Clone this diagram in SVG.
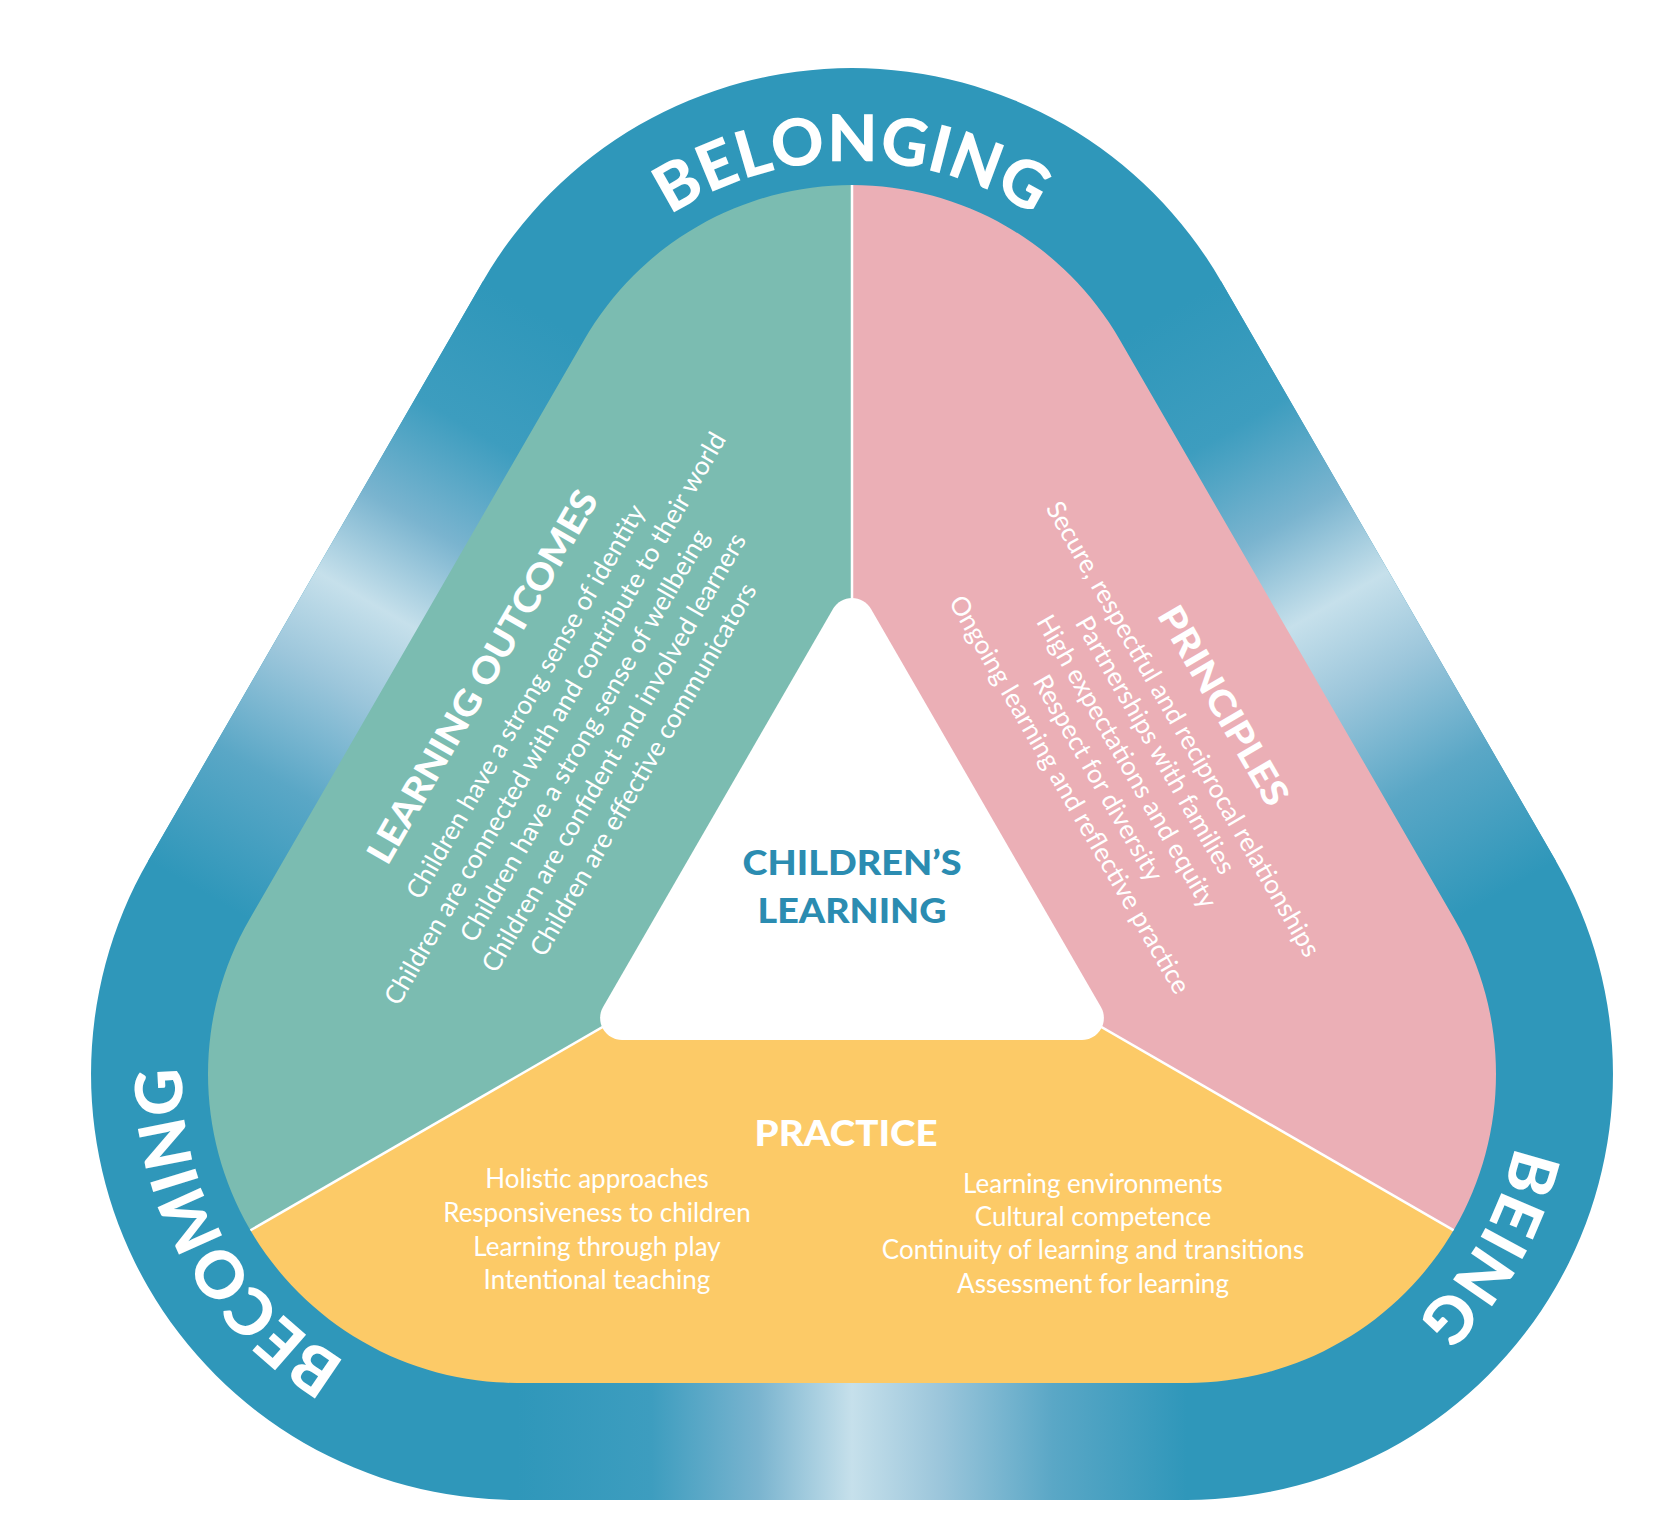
<svg xmlns="http://www.w3.org/2000/svg" width="1675" height="1529" viewBox="0 0 1675 1529">
<defs>
<style>
.ring-label{font-family:Lato,"Open Sans","DejaVu Sans",sans-serif;font-weight:900;font-size:65px;fill:#ffffff;letter-spacing:0.5px}
.head{font-family:Lato,"Open Sans","DejaVu Sans",sans-serif;font-weight:900;font-size:36px;fill:#ffffff;text-anchor:middle}
.body{font-family:Lato,"Open Sans","DejaVu Sans",sans-serif;font-weight:400;font-size:26px;fill:#ffffff;text-anchor:middle}
.center-label{font-family:Lato,"Open Sans","DejaVu Sans",sans-serif;font-weight:900;font-size:34px;fill:#2B8CB1;text-anchor:middle}
.divider{stroke:#ffffff;stroke-width:2.5;fill:none}
</style>
<linearGradient id="gL" gradientUnits="userSpaceOnUse" x1="533.8" y1="310.3" x2="198.8" y2="890.3">
<stop offset="0" stop-color="#2F97BA"/><stop offset="0.2" stop-color="#3D9DBF"/><stop offset="0.36" stop-color="#7AB4CF"/><stop offset="0.5" stop-color="#C6E0EB"/><stop offset="0.63" stop-color="#9CC6DB"/><stop offset="0.8" stop-color="#5AA7C6"/><stop offset="1" stop-color="#2F97BA"/>
</linearGradient>
<linearGradient id="gR" gradientUnits="userSpaceOnUse" x1="1170.2" y1="310.3" x2="1505.2" y2="890.3">
<stop offset="0" stop-color="#2F97BA"/><stop offset="0.2" stop-color="#3D9DBF"/><stop offset="0.36" stop-color="#7AB4CF"/><stop offset="0.5" stop-color="#C6E0EB"/><stop offset="0.63" stop-color="#9CC6DB"/><stop offset="0.8" stop-color="#5AA7C6"/><stop offset="1" stop-color="#2F97BA"/>
</linearGradient>
<linearGradient id="gB" gradientUnits="userSpaceOnUse" x1="517" y1="1441" x2="1187" y2="1441">
<stop offset="0" stop-color="#2F97BA"/><stop offset="0.2" stop-color="#3D9DBF"/><stop offset="0.36" stop-color="#7AB4CF"/><stop offset="0.5" stop-color="#C6E0EB"/><stop offset="0.63" stop-color="#9CC6DB"/><stop offset="0.8" stop-color="#5AA7C6"/><stop offset="1" stop-color="#2F97BA"/>
</linearGradient>
<clipPath id="innerClip"><path d="M584.4,339.5 A309,309 0 0 1 1119.6,339.5 L1454.6,919.5 A309,309 0 0 1 1187,1383 L517,1383 A309,309 0 0 1 249.4,919.5 Z"/></clipPath>
<path id="arcTop" d="M524.1,436.2 A333,333 0 0 1 1179.9,436.2"/>
<path id="arcLeft" d="M625.8,1388.8 A333,333 0 0 1 306.2,815.3"/>
<path id="arcRight" d="M1394,812.3 A333,333 0 0 1 1067.3,1384.9"/>
</defs>
<rect width="1675" height="1529" fill="#ffffff"/>

<g id="ring">
<path d="M483.1,281 A426,426 0 0 1 1220.9,281 L1555.9,861 A426,426 0 0 1 1187,1500 L517,1500 A426,426 0 0 1 148.1,861 Z" fill="#2F97BA"/>
<polygon points="483.1,281 600,348 265,928 148.1,861" fill="url(#gL)"/>
<polygon points="1220.9,281 1104,348 1439,928 1555.9,861" fill="url(#gR)"/>
<polygon points="517,1370 1187,1370 1187,1500 517,1500" fill="url(#gB)"/>
</g>

<g id="sectors" clip-path="url(#innerClip)">
<polygon id="sector-outcomes" points="852,883 852,0 0,0 0,1374.9" fill="#7BBCB1"/>
<polygon id="sector-principles" points="852,883 852,0 1675,0 1675,1358.2" fill="#EBAFB6"/>
<polygon id="sector-practice" points="852,883 0,1374.9 0,1529 1675,1529 1675,1358.2" fill="#FCCA67"/>
</g>

<g id="connectors" clip-path="url(#innerClip)">
<line class="divider" x1="852" y1="883" x2="852" y2="150"/>
<line class="divider" x1="852" y1="883" x2="200" y2="1259.4"/>
<line class="divider" x1="852" y1="883" x2="1504" y2="1259.4"/>
</g>

<g id="center">
<path d="M832.95,609 A22,22 0 0 1 871.05,609 L1100.95,1007 A22,22 0 0 1 1081.9,1040 L622.1,1040 A22,22 0 0 1 603.05,1007 Z" fill="#ffffff"/>
<text class="center-label" x="852" y="875" textLength="219" lengthAdjust="spacingAndGlyphs">CHILDREN’S</text>
<text class="center-label" x="852" y="923" textLength="189" lengthAdjust="spacingAndGlyphs">LEARNING</text>
</g>

<g id="label-belonging">
<text class="ring-label"><textPath href="#arcTop" startOffset="50%" text-anchor="middle">BELONGING</textPath></text>
</g>
<g id="label-becoming">
<text class="ring-label" style="letter-spacing:0px"><textPath href="#arcLeft" startOffset="50%" text-anchor="middle">BECOMING</textPath></text>
</g>
<g id="label-being">
<text class="ring-label" style="letter-spacing:1px"><textPath href="#arcRight" startOffset="50%" text-anchor="middle">BEING</textPath></text>
</g>

<g id="node-outcomes" transform="translate(483,677) rotate(-60)">
<text class="head" x="0" y="12" textLength="424" lengthAdjust="spacingAndGlyphs">LEARNING OUTCOMES</text>
<text class="body" x="0" y="58">Children have a strong sense of identity</text>
<text class="body" x="0" y="92">Children are connected with and contribute to their world</text>
<text class="body" x="0" y="126">Children have a strong sense of wellbeing</text>
<text class="body" x="0" y="160">Children are confident and involved learners</text>
<text class="body" x="0" y="194">Children are effective communicators</text>
</g>

<g id="node-principles" transform="translate(1223,706) rotate(60)">
<text class="head" x="0" y="12" textLength="224" lengthAdjust="spacingAndGlyphs">PRINCIPLES</text>
<text class="body" x="0" y="55">Secure, respectful and reciprocal relationships</text>
<text class="body" x="0" y="87">Partnerships with families</text>
<text class="body" x="0" y="120">High expectations and equity</text>
<text class="body" x="0" y="153">Respect for diversity</text>
<text class="body" x="0" y="186">Ongoing learning and reflective practice</text>
</g>

<g id="node-practice">
<text class="head" x="846" y="1146" textLength="183" lengthAdjust="spacingAndGlyphs">PRACTICE</text>
<text class="body" x="597" y="1188">Holistic approaches</text>
<text class="body" x="597" y="1222">Responsiveness to children</text>
<text class="body" x="597" y="1256">Learning through play</text>
<text class="body" x="597" y="1289">Intentional teaching</text>
<text class="body" x="1093" y="1193">Learning environments</text>
<text class="body" x="1093" y="1226">Cultural competence</text>
<text class="body" x="1093" y="1259">Continuity of learning and transitions</text>
<text class="body" x="1093" y="1293">Assessment for learning</text>
</g>
</svg>
